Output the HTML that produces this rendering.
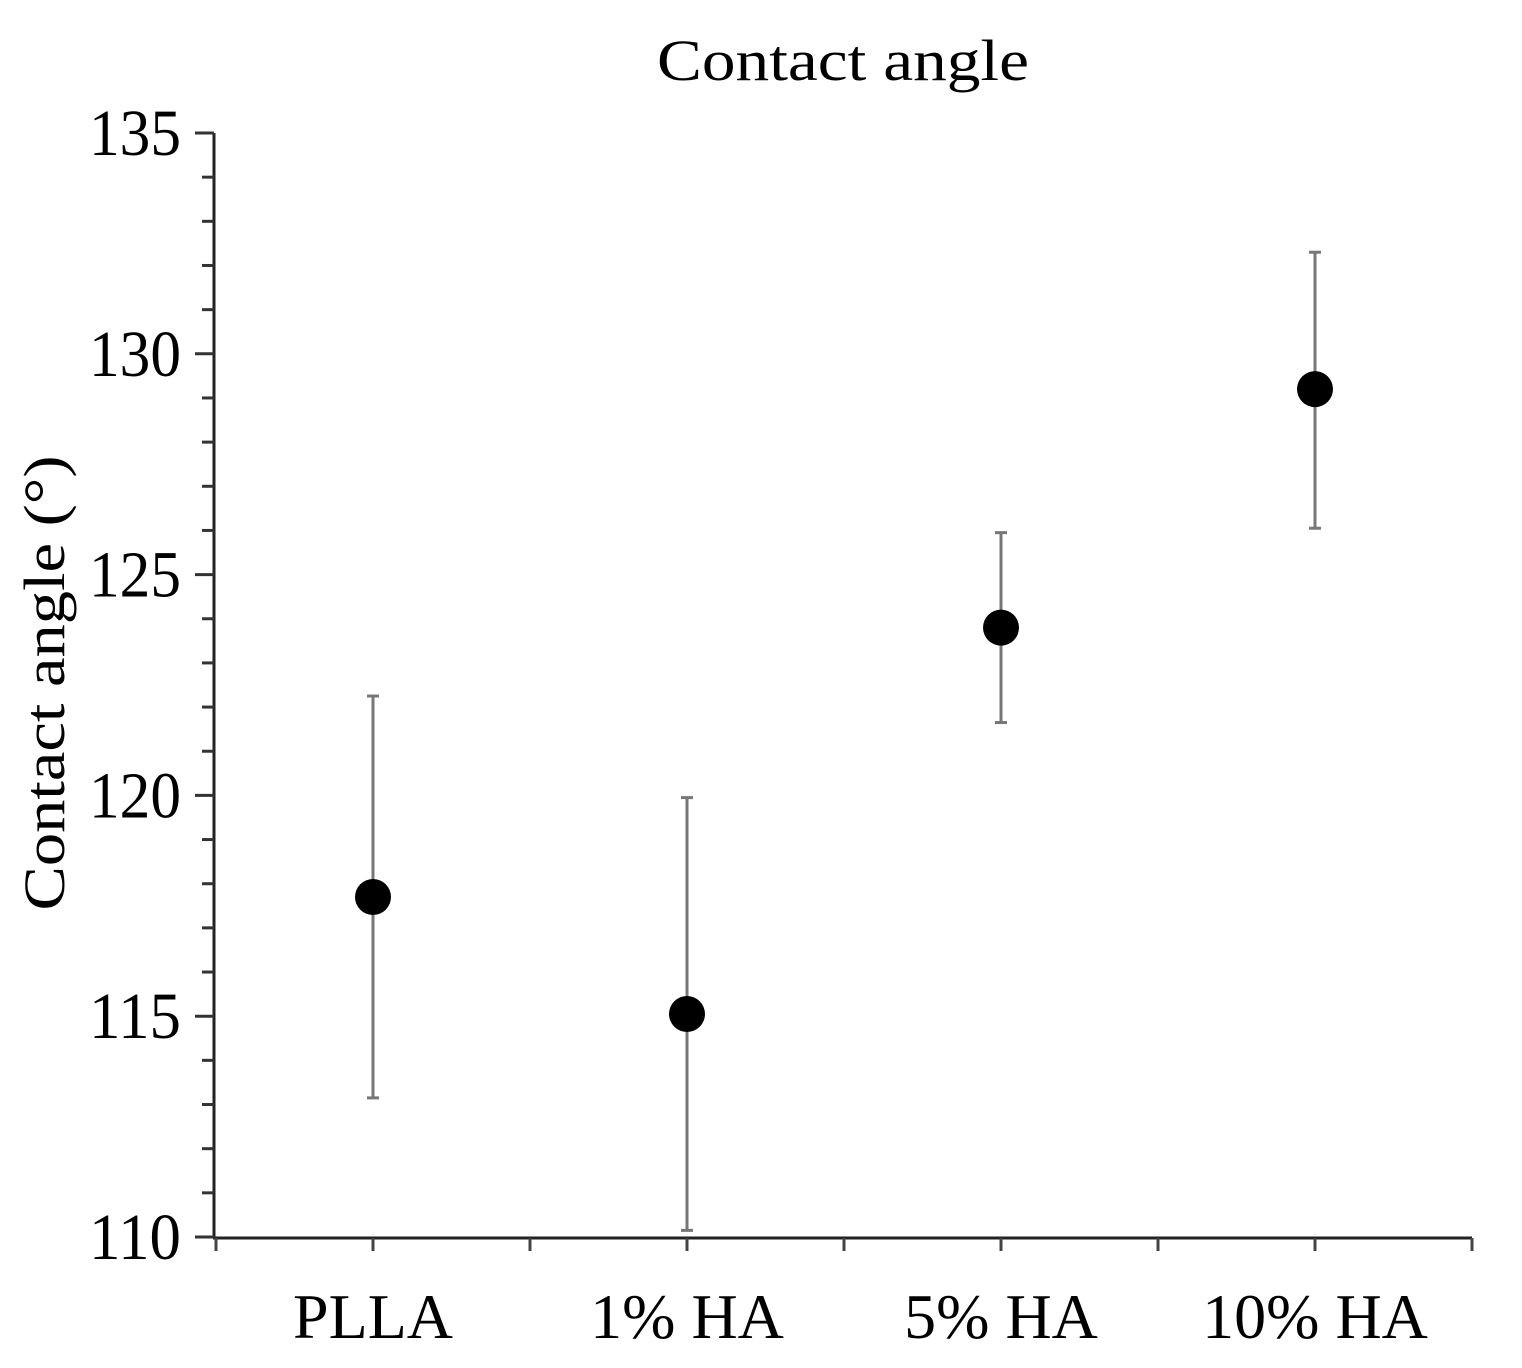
<!DOCTYPE html>
<html><head><meta charset="utf-8"><style>body{margin:0;background:#fff}svg{display:block}</style></head>
<body>
<svg id="chart" width="1522" height="1368" xmlns="http://www.w3.org/2000/svg" font-family="'Liberation Serif', serif">
<text x="843" y="80" font-size="58" text-anchor="middle" textLength="372" lengthAdjust="spacingAndGlyphs">Contact angle</text>
<text transform="translate(64,683) rotate(-90)" font-size="58" text-anchor="middle" textLength="455" lengthAdjust="spacingAndGlyphs">Contact angle (°)</text>
<g id="axes"></g>
<g id="marks"></g>
</svg>
<script>
const categories = ["PLLA", "1% HA", "5% HA", "10% HA"];
const means = [117.7, 115.05, 123.8, 129.2];
const errTop = [122.25, 119.95, 125.95, 132.3];
const errBottom = [113.15, 110.15, 121.65, 126.05];
const yTicks = [110, 115, 120, 125, 130, 135];

const NS = "http://www.w3.org/2000/svg";
const yMin = 110, yMax = 135, yTop = 133, yBot = 1237;
const xLeft = 216, xRight = 1472;
function yS(v){ return yBot - (v - yMin) / (yMax - yMin) * (yBot - yTop); }
const band = (xRight - xLeft) / categories.length;
function xS(i){ return xLeft + band * (i + 0.5); }
function mk(tag, attrs, parent){ const e = document.createElementNS(NS, tag); for (const k in attrs) e.setAttribute(k, attrs[k]); parent.appendChild(e); return e; }
const axes = document.getElementById("axes"), marks = document.getElementById("marks");

let yl = mk("line", {x1:214, y1:yTop, x2:214, y2:yBot+1, stroke:"#222", "stroke-width":3}, axes);


let xl = mk("line", {x1:213, y1:1238, x2:xRight, y2:1238, stroke:"#222", "stroke-width":3}, axes);



for (let v = yMin; v <= yMax; v++) {
  const major = (v % 5 === 0);
  const t = mk("line", {x1: major ? 195 : 202, y1: yS(v), x2: 214, y2: yS(v), stroke:"#333", "stroke-width":3}, axes);
  
  
}
yTicks.forEach(v => {
  const t = mk("text", {x: 181, y: yS(v) + 22, "font-size": 66, "text-anchor": "end", textLength: 92, lengthAdjust: "spacingAndGlyphs"}, axes);
  t.textContent = v;
  
  
});
for (let i = 0; i <= categories.length * 2; i++) {
  const x = xLeft + band / 2 * i;
  const t = mk("line", {x1: x, y1: 1238, x2: x, y2: 1251, stroke:"#444", "stroke-width":3}, axes);
  
  
}
categories.forEach((c, i) => {
  const t = mk("text", {x: xS(i), y: 1338, "font-size": 64, "text-anchor": "middle"}, axes);
  t.textContent = c;
  
  
  const x = xS(i);
  const g = mk("g", {stroke:"#777", "stroke-width":3}, marks);
  
  
  mk("line", {x1:x, y1:yS(errTop[i]), x2:x, y2:yS(errBottom[i])}, g);
  mk("line", {x1:x-6, y1:yS(errTop[i]), x2:x+6, y2:yS(errTop[i])}, g);
  mk("line", {x1:x-6, y1:yS(errBottom[i]), x2:x+6, y2:yS(errBottom[i])}, g);
  const p = mk("circle", {cx:x, cy:yS(means[i]), r:18, fill:"#000"}, marks);
  
  
});
</script>
</body></html>
